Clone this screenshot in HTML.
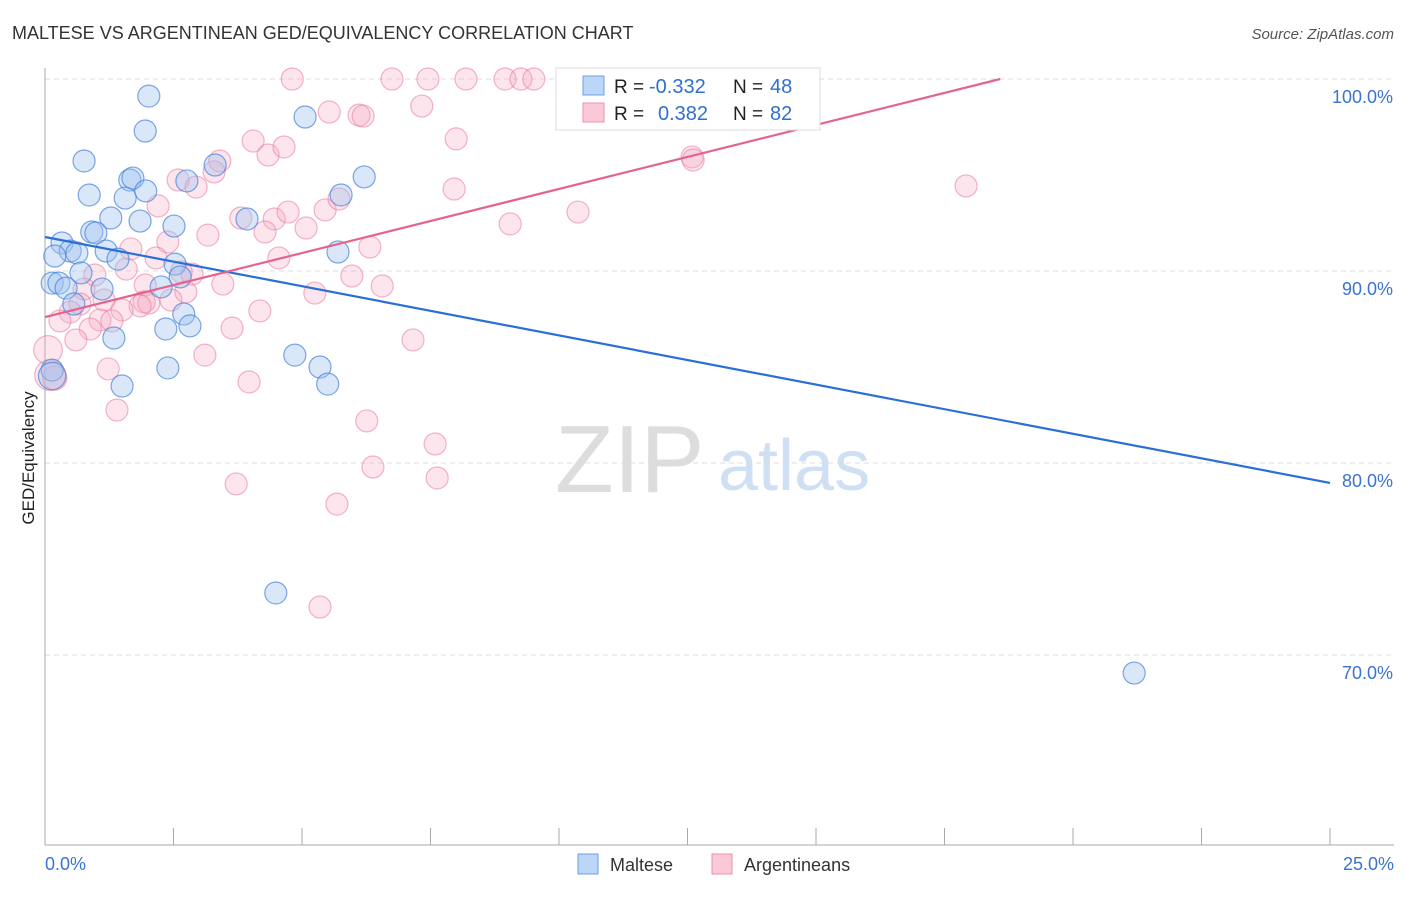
<!DOCTYPE html>
<html><head><meta charset="utf-8"><style>
body{margin:0;background:#fff;font-family:"Liberation Sans",sans-serif}
svg text{font-family:"Liberation Sans",sans-serif}
</style></head><body>
<svg id="c" width="1406" height="892" viewBox="0 0 1406 892" xmlns="http://www.w3.org/2000/svg">
<text x="12" y="39" font-size="18" fill="#333">MALTESE VS ARGENTINEAN GED/EQUIVALENCY CORRELATION CHART</text>
<text x="1394" y="39" font-size="15" fill="#555" font-style="italic" text-anchor="end">Source: ZipAtlas.com</text>
<g>
<text x="555" y="492" font-size="96" font-family="Liberation Serif" fill="#ddd">ZIP</text>
<text x="718" y="490" font-size="72" fill="#cfe0f5">atlas</text>
</g>
<g id="grid"></g>
<g id="axes"></g>
<g id="marks"></g>
<text transform="translate(34,458) rotate(-90)" font-size="17" fill="#222" text-anchor="middle">GED/Equivalency</text>
<g>
<rect x="556" y="68" width="264" height="62" fill="#fff" stroke="#ddd"/>
<rect x="583" y="76" width="21" height="19" fill="#bcd6f7" stroke="#6d9ee6"/>
<rect x="583" y="103" width="21" height="19" fill="#fac8d6" stroke="#ec8fab"/>
<text x="614" y="93" font-size="19" fill="#222">R = </text><text x="649" y="93" font-size="20" fill="#2f6fd0">-0.332</text>
<text x="733" y="93" font-size="19" fill="#222">N = </text><text x="770" y="93" font-size="20" fill="#2f6fd0">48</text>
<text x="614" y="120" font-size="19" fill="#222">R = </text><text x="658" y="120" font-size="20" fill="#2f6fd0">0.382</text>
<text x="733" y="120" font-size="19" fill="#222">N = </text><text x="770" y="120" font-size="20" fill="#2f6fd0">82</text>
</g>
<g>
<rect x="578" y="854" width="20" height="20" fill="#bcd6f7" stroke="#6d9ee6"/>
<text x="610" y="871" font-size="18" fill="#333">Maltese</text>
<rect x="712" y="854" width="20" height="20" fill="#fac8d6" stroke="#ec8fab"/>
<text x="744" y="871" font-size="18" fill="#333">Argentineans</text>
</g>
</svg>
<script>
const xTicks=[0,2.5,5,7.5,10,12.5,15,17.5,20,22.5,25];
const yTicks=[100,90,80,70];
const yTickLabels=["100.0%","90.0%","80.0%","70.0%"];
const xEndLabels=["0.0%","25.0%"];
const malteseX=[2.02,1.95,0.76,1.65,1.71,1.96,0.86,1.56,1.28,1.85,0.91,0.99,2.51,0.33,0.49,0.62,0.19,1.19,1.42,2.53,0.7,0.14,0.27,0.41,1.11,2.26,2.63,0.56,2.7,2.82,2.35,1.34,2.39,1.5,0.14,0.14,3.31,2.76,3.93,5.06,6.21,5.76,5.7,4.86,5.35,5.5,4.49,21.19,14.28];
const malteseY=[99.11,97.29,95.73,94.74,94.84,94.17,93.96,93.8,92.76,92.6,92.03,91.98,92.34,91.46,91.04,90.94,90.78,91.04,90.62,90.36,89.9,89.37,89.37,89.11,89.06,89.17,89.69,88.28,87.76,87.14,86.98,86.51,84.95,84.01,84.84,84.53,95.52,94.69,92.71,98.02,94.9,93.96,90.99,85.62,85,84.11,73.23,69.06,99.95];
const argX=[4.81,6.75,7.45,8.19,8.95,9.26,9.51,5.53,6.11,6.19,7.33,8,4.05,4.34,4.65,3.4,3.29,2.59,2.94,2.2,3.81,4.46,4.73,4.28,5.08,5.45,5.72,7.96,9.05,10.37,12.59,12.61,17.92,3.17,2.39,1.67,2.16,1.58,0.97,2.65,2.86,6.32,4.55,5.97,6.56,5.25,3.46,1.95,2.74,1.93,2.45,0.76,1.15,0.68,2.02,1.85,1.5,0.49,1.07,1.3,0.29,0.88,0.6,3.64,4.18,3.11,7.16,1.23,3.97,1.4,6.26,7.59,6.38,7.63,3.72,5.68,5.35,0.06,0.1,0.19];
const argY=[100,100,100,100,100,100,100,98.28,98.12,98.07,98.59,96.88,96.77,96.04,96.46,95.73,95.16,94.74,94.37,93.39,92.76,92.71,93.07,92.03,92.24,93.18,93.75,94.27,92.45,93.07,95.94,95.78,94.43,91.87,91.51,91.15,90.68,90.1,89.79,89.95,89.84,91.25,90.68,89.74,89.22,88.85,89.32,89.27,88.91,88.39,88.49,89.06,88.49,88.28,88.33,88.18,87.97,87.86,87.45,87.4,87.4,86.98,86.41,87.03,87.92,85.62,86.41,84.9,84.22,82.76,82.19,80.99,79.79,79.22,78.91,77.86,72.5,85.89,84.58,84.43];
const argSize=[];for(let i=0;i<argX.length;i++)argSize.push(1);argSize[77]=1.3;argSize[78]=1.4;argSize[79]=1.1;
const malSize=[];for(let i=0;i<malteseX.length;i++)malSize.push(1);malSize[35]=1.25;
const malteseTrend=[91.77,78.96];
const argTrend=[87.6,104.28];
const X0=45,X1=1330,Y100=79,PX10=192;
const sx=v=>X0+v*(X1-X0)/25;
const sy=v=>Y100+(100-v)*PX10/10;
const NS="http://www.w3.org/2000/svg";
function mk(p,tag,at){const e=document.createElementNS(NS,tag);for(const k in at)e.setAttribute(k,at[k]);p.appendChild(e);return e;}
const grid=document.getElementById('grid'),axes=document.getElementById('axes'),marks=document.getElementById('marks');
yTicks.forEach((t,i)=>{
 const l=mk(grid,'line',{x1:X0,x2:1394,y1:sy(t),y2:sy(t),stroke:'#ddd','stroke-dasharray':'5,4'});
 
 
 const tx=mk(axes,'text',{x:1393,y:sy(t)+24,'font-size':18,fill:'#3b73d0','text-anchor':'end'});
 tx.textContent=yTickLabels[i];
 
 
});
const ax=mk(axes,'line',{x1:X0,x2:1394,y1:845,y2:845,stroke:'#aaa'});


const ay=mk(axes,'line',{x1:X0,x2:X0,y1:68,y2:845,stroke:'#aaa'});


xTicks.forEach(t=>{
 const l=mk(axes,'line',{x1:sx(t),x2:sx(t),y1:828,y2:845,stroke:'#aaa'});
 
 
});
[[0,'start',45],[25,'end',1394]].forEach((d,i)=>{
 const tx=mk(axes,'text',{x:d[2],y:870,'font-size':18,fill:'#3b73d0','text-anchor':d[1]});
 tx.textContent=xEndLabels[i];
 
 
});
argX.forEach((x,i)=>{
 const c=mk(marks,'circle',{cx:sx(x),cy:sy(argY[i]),r:11*argSize[i],fill:'rgba(246,170,195,0.3)',stroke:'rgba(234,120,155,0.55)','stroke-width':1.2});
 
 
});
malteseX.forEach((x,i)=>{
 const c=mk(marks,'circle',{cx:sx(x),cy:sy(malteseY[i]),r:11*malSize[i],fill:'rgba(160,195,240,0.4)',stroke:'rgba(70,130,220,0.7)','stroke-width':1.2});
 
 
});
const bl=mk(marks,'line',{x1:sx(0),y1:sy(malteseTrend[0]),x2:sx(25),y2:sy(malteseTrend[1]),stroke:'#2b6fd6','stroke-width':2.2});


const slope=(argTrend[1]-argTrend[0])/25;const xe=Math.min(25,(100-argTrend[0])/slope);
const pl=mk(marks,'line',{x1:sx(0),y1:sy(argTrend[0]),x2:sx(xe),y2:sy(argTrend[0]+slope*xe),stroke:'#e5648f','stroke-width':2.2});


</script>
</body></html>
